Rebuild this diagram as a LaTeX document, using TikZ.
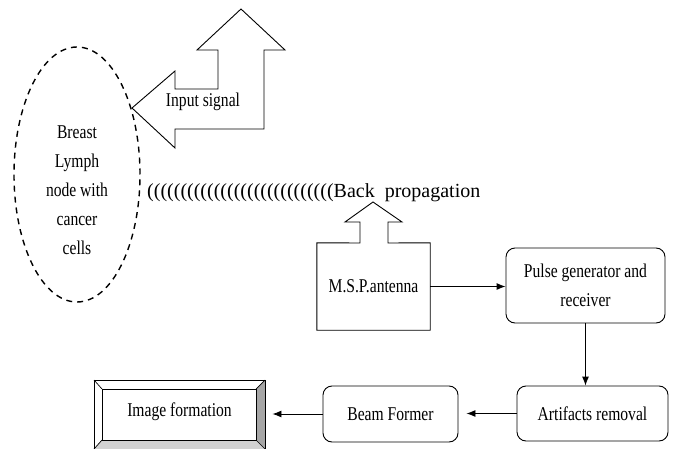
\documentclass[tikz,border=0pt]{standalone}
\usepackage{fontspec}
\setmainfont{Liberation Serif}[FakeStretch=0.8]
\newfontfamily\wideserif{Liberation Serif}
\usepackage{tikz}
\usetikzlibrary{shapes,arrows.meta,positioning}

\begin{document}
\begin{tikzpicture}[
			x = 1pt, y = -1pt,
			every node/.style = {font=\fontsize{19.5}{29}\selectfont, inner sep=0pt},
			block/.style = {draw, rounded corners=9pt, line width=0.9pt, align=center},
			flow/.style = {-{Latex[length=9pt,width=7pt]}, line width=0.9pt},
			hollow/.style = {draw, line width=0.9pt, line join=miter}
		]
			\useasboundingbox (0,0) rectangle (674,449);

			% breast lymph node
			\node[ellipse, draw, dash pattern=on 6pt off 5pt, line width=1.4pt,
				minimum width=126pt, minimum height=255pt] (lymph) at (77,174.5) {};
			\node[align=center] (lymphtext) at (77,190) {Breast\\Lymph\\node with\\cancer\\cells};

			% input signal
			\draw[hollow] (132,108) -- (175,71) -- (175,89) -- (218,89) -- (218,50) -- (197,50)
				-- (241,9) -- (285,50) -- (264,50) -- (264,129) -- (175,129) -- (175,148) -- cycle;
			\node (insig) at (203,102) {Input signal};

			\node[anchor=base west, font=\wideserif\fontsize{20}{24}\selectfont] (backprop) at (147,197)
				{((((((((((((((((((((((((((((Back\hspace{5pt} propagation};

			% antenna
			\node[minimum width=113pt, minimum height=87pt] (msp) at (373.5,286.5) {M.S.P.antenna};
			\draw[hollow] (msp.north west) -- (360,243) -- (360,222) -- (345,222) -- (373,202) -- (402,222)
				-- (388,222) -- (388,243) -- (msp.north east) -- (msp.south east) -- (msp.south west) -- cycle;

			\node[block, minimum width=159pt, minimum height=75pt] (pulse) at (585.5,285.5) {Pulse generator and\\receiver};
			\node[block, minimum width=151pt, minimum height=55pt] (artifacts) at (592.5,413.5) {Artifacts removal};
			\node[block, minimum width=135pt, minimum height=56pt] (beam) at (390.5,414) {Beam Former};

			% image formation
			\fill[gray!70] (256,389) -- (265,380) -- (265,449) -- (256,440) -- cycle;
			\fill[gray!35] (102,440) -- (256,440) -- (265,449) -- (94,449) -- cycle;
			\node[draw, line width=0.9pt, minimum width=171pt, minimum height=69pt] (imgform) at (179.5,414.5)
				{\raisebox{10pt}{Image formation}};
			\draw[line width=0.9pt] (102,389) rectangle (256,440);
			\draw[line width=0.7pt] (94,380) -- (102,389) (265,380) -- (256,389) (94,449) -- (102,440) (265,449) -- (256,440);

			\draw[flow] (msp.east) -- (msp.east -| pulse.west);
			\draw[flow] (pulse.south) -- (pulse.south |- artifacts.north);
			\draw[flow, shorten >=8pt] (artifacts.west) -- (artifacts.west -| beam.east);
			\draw[flow, shorten >=7pt] (beam.west) -- (beam.west -| imgform.east);

		\end{tikzpicture}
\end{document}
